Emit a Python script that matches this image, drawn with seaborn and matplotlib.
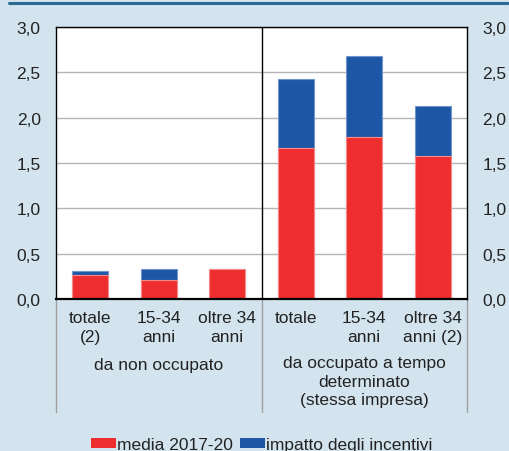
import matplotlib
matplotlib.use("Agg")
import matplotlib.pyplot as plt
import seaborn as sns
import pandas as pd
from matplotlib.patches import Patch
from matplotlib.lines import Line2D

categories = ["totale\n(2)", "15-34\nanni", "oltre 34\nanni",
              "totale", "15-34\nanni", "oltre 34\nanni (2)"]
media = [0.26, 0.21, 0.33, 1.67, 1.79, 1.58]
impatto = [0.05, 0.12, 0.0, 0.76, 0.89, 0.55]
groups = ["da non occupato", "da occupato a tempo\ndeterminato\n(stessa impresa)"]
yticks = [0.0, 0.5, 1.0, 1.5, 2.0, 2.5, 3.0]
series_names = ["media 2017-20", "impatto degli incentivi"]

RED = "#ee2e2e"
BLUE = "#1e56a6"
BG = "#d3e4ee"
TXT = "#222222"
FS = 12.5
LS = 1.3

sns.set_theme(style="white")
plt.rcParams["font.family"] = ["Liberation Sans", "DejaVu Sans"]

keys = [f"c{i}" for i in range(len(categories))]
df = pd.DataFrame({"key": keys, "media": media,
                   "totale": [m + i for m, i in zip(media, impatto)]})

fig = plt.figure(figsize=(5.1, 4.52), dpi=100, facecolor=BG)
ax = fig.add_axes([56 / 510, 1 - 300 / 452, 411 / 510, 272 / 452])
ax.set_facecolor("white")

sns.barplot(data=df, x="key", y="totale", order=keys, color=BLUE,
            width=0.525, saturation=1, ax=ax, errorbar=None,
            edgecolor="#6f95cc", linewidth=0.8)
sns.barplot(data=df, x="key", y="media", order=keys, color=RED,
            width=0.525, saturation=1, ax=ax, errorbar=None,
            edgecolor="#f58a8a", linewidth=0.8)

ax.set_xlim(-0.5, 5.5)
ax.set_ylim(0, 3.0)
ax.set_yticks(yticks)
ax.set_yticklabels([f"{v:.1f}".replace(".", ",") for v in yticks])
ax.tick_params(axis="y", length=0, pad=11, labelsize=FS, labelcolor=TXT,
               labelright=True, right=False)
ax.yaxis.grid(True, color="#b4b4b4", linewidth=1)
ax.set_axisbelow(True)
ax.set_xlabel("")
ax.set_ylabel("")
ax.set_xticks(range(len(categories)))
ax.set_xticklabels(categories, fontsize=FS, color=TXT, linespacing=LS)
ax.tick_params(axis="x", length=0, pad=8)

for s in ["left", "right", "top"]:
    ax.spines[s].set_color("black")
    ax.spines[s].set_linewidth(1)
ax.spines["bottom"].set_color("black")
ax.spines["bottom"].set_linewidth(1.6)

# divider between groups
ax.axvline(2.5, color="black", linewidth=1)

# separator lines below axis
for xp in [-0.5, 2.5, 5.5]:
    ax.add_line(Line2D([xp, xp], [0, -113 / 90.67], color="#a0a0a0",
                       linewidth=1, clip_on=False))

# group labels
ax.text(1.0, -66 / 90.67, groups[0], ha="center", va="center",
        fontsize=FS, color=TXT)
ax.text(4.0, -56 / 90.67, groups[1], ha="center", va="top",
        fontsize=FS, color=TXT, linespacing=LS)

# top rule
fig.add_artist(Line2D([9 / 510, 508 / 510], [1 - 4 / 452, 1 - 4 / 452],
                      color="#2a6a93", linewidth=2.2))

handles = [Patch(facecolor=RED, edgecolor="none"),
           Patch(facecolor=BLUE, edgecolor="none")]
fig.legend(handles, series_names, loc="center", ncol=2,
           bbox_to_anchor=(262 / 510, 1 - 446 / 452), frameon=False,
           fontsize=FS, handlelength=1.4, handleheight=0.5,
           handletextpad=0.1, columnspacing=0.4, borderpad=0,
           labelcolor=TXT)

fig.savefig("out.png", dpi=100, facecolor=BG)
